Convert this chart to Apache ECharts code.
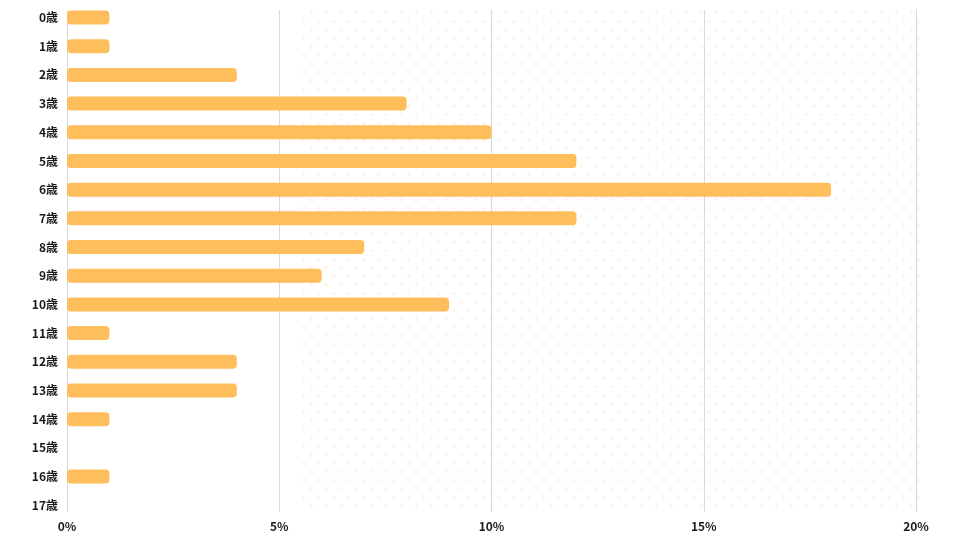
<!DOCTYPE html>
<html>
<head>
<meta charset="utf-8">
<script src="https://cdn.jsdelivr.net/npm/echarts@6/dist/echarts.min.js"></script>
<style>html,body{margin:0;padding:0;background:#fff}#c{width:960px;height:540px}</style>
</head>
<body>
<div id="c"></div>
<script>
var categories = ['0歳','1歳','2歳','3歳','4歳','5歳','6歳','7歳','8歳','9歳','10歳','11歳','12歳','13歳','14歳','15歳','16歳','17歳'];
var values = [1,1,4,8,10,12,18,12,7,6,9,1,4,4,1,0,1,0];
var xTicks = [0,5,10,15,20];

var tile = document.createElement('canvas');
tile.width = 15; tile.height = 17;
var tc = tile.getContext('2d');
tc.fillStyle = '#FEF4E6';
[[3.75,4.25],[11.25,12.75]].forEach(function(p){tc.beginPath();tc.arc(p[0],p[1],1.7,0,Math.PI*2);tc.fill();});

var chart = echarts.init(document.getElementById('c'), null, {renderer:'canvas'});
var font = '"Noto Sans CJK JP","Noto Sans",sans-serif';
chart.setOption({
  animation:false,
  graphic:[{type:'rect', z:-10, silent:true, shape:{x:300,y:8,width:620,height:504}, style:{fill:{image:tile, repeat:'repeat'}}}],
  grid:[
    {left:67,right:44,top:3.2,height:516.4},
    {left:67,right:44,top:10,bottom:28}
  ],
  xAxis:[
    {gridIndex:0,type:'value',min:0,max:20,interval:5,show:false},
    {gridIndex:1,type:'value',min:0,max:20,interval:5,
     axisLine:{show:false},axisTick:{show:false},
     splitLine:{show:true,lineStyle:{color:'#d9d9d9',width:1}},
     axisLabel:{margin:8,color:'#1a1a1a',fontWeight:'bold',fontSize:12,fontFamily:font,
       formatter:function(v){return v+'%';}}}
  ],
  yAxis:[
    {gridIndex:0,type:'category',data:categories,inverse:true,
     axisLine:{show:false},axisTick:{show:false},splitLine:{show:false},
     axisLabel:{margin:9,color:'#1a1a1a',fontWeight:'bold',fontSize:12,fontFamily:font}},
    {gridIndex:1,type:'value',min:0,max:1,show:false}
  ],
  series:[{
    type:'bar',xAxisIndex:0,yAxisIndex:0,data:values,barWidth:14,
    itemStyle:{color:'#FFBE5C',borderRadius:4}
  }]
});
</script>
</body>
</html>
